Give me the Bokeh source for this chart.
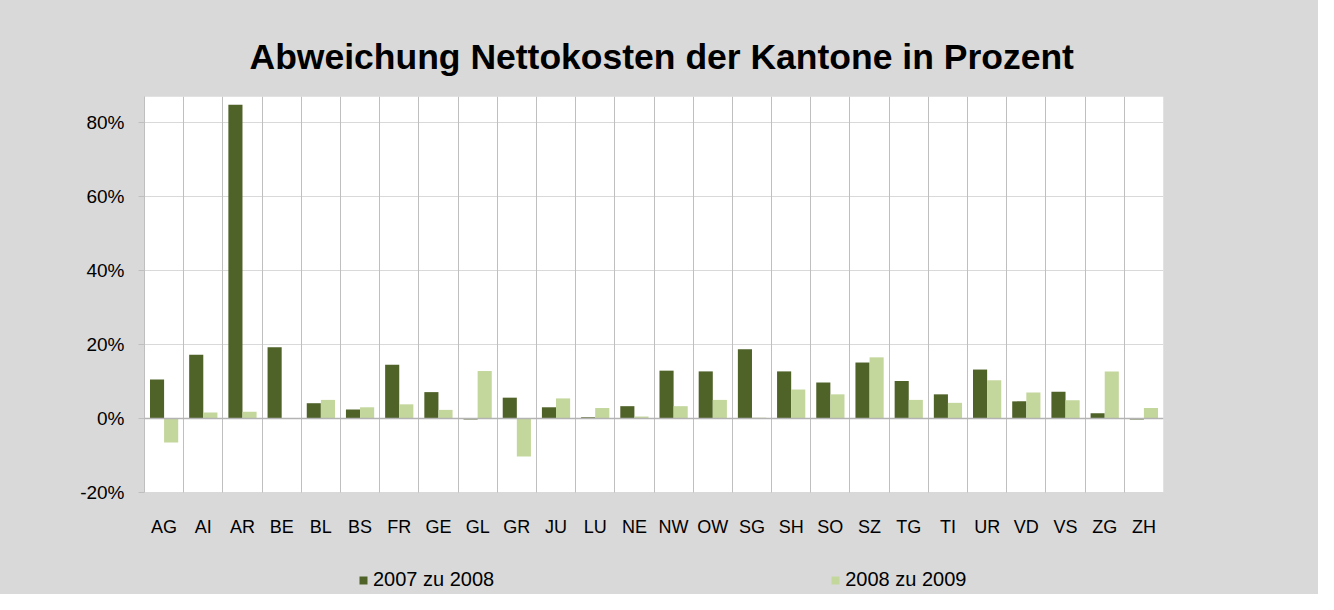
from bokeh.plotting import figure
from bokeh.models import (ColumnDataSource, FixedTicker, PrintfTickFormatter, Span, Grid,
                          BoxAnnotation, Legend, LegendItem, Range1d, Title)
from bokeh.core.properties import value
from bokeh.embed import file_html
from bokeh.resources import INLINE

cantons = ["AG", "AI", "AR", "BE", "BL", "BS", "FR", "GE", "GL", "GR", "JU", "LU", "NE",
           "NW", "OW", "SG", "SH", "SO", "SZ", "TG", "TI", "UR", "VD", "VS", "ZG", "ZH"]
d_2007_2008 = [10.5, 17.2, 84.8, 19.2, 4.1, 2.4, 14.5, 7.1, -0.3, 5.6, 3.0, 0.3, 3.3,
               12.9, 12.7, 18.7, 12.7, 9.7, 15.1, 10.1, 6.5, 13.2, 4.6, 7.2, 1.4, -0.3]
d_2008_2009 = [-6.5, 1.6, 1.8, 0.0, 5.0, 3.0, 3.8, 2.3, 12.8, -10.3, 5.4, 2.8, 0.5,
               3.3, 5.0, 0.2, 7.8, 6.5, 16.5, 5.0, 4.2, 10.3, 7.0, 4.9, 12.7, 2.8]
series_names = ["2007 zu 2008", "2008 zu 2009"]
y_ticks = [-20, 0, 20, 40, 60, 80]
y_min, y_max = -20, 87

DARK = "#4F6228"
LIGHT = "#C3D69B"
BG = "#d9d9d9"
FONT = "Liberation Sans"

n = len(cantons)
centers = [i + 0.5 for i in range(n)]
src = ColumnDataSource(dict(
    x1=[c - 0.18 for c in centers],
    x2=[c + 0.18 for c in centers],
    xc=centers,
    base=[y_min] * n,
    v1=d_2007_2008,
    v2=d_2008_2009,
    cat=cantons,
))

# the frame reaches down to the bottom so the category labels and legend sit inside it;
# only the part above the value axis minimum is painted white (the plot area)
p = figure(width=1318, height=594, output_backend="svg", toolbar_location=None,
           x_axis_type=None, x_range=Range1d(0, n), y_range=Range1d(-47.6, y_max),
           min_border_left=144, min_border_right=155, min_border_top=96,
           min_border_bottom=0)
p.border_fill_color = BG
p.background_fill_color = BG
p.outline_line_color = None
# grey behind the canvas so no light seam shows where frame and border meet
p.styles = {"background-color": BG}

title = Title(text="Abweichung Nettokosten der Kantone in Prozent", align="left",
              text_font=FONT, text_font_size="35.5px", text_font_style="bold",
              text_color="black", standoff=39, offset=105)
p.add_layout(title, "above")

# plot area and grids
p.ygrid.visible = False
p.add_layout(BoxAnnotation(bottom=y_min, fill_color="white", fill_alpha=1,
                           line_color=None, level="image"))
p.add_layout(Grid(dimension=1, ticker=FixedTicker(ticks=y_ticks), grid_line_color=BG,
                  level="underlay"))
p.add_layout(Grid(dimension=0, ticker=FixedTicker(ticks=list(range(n + 1))),
                  bounds=(0, n), cross_bounds=(y_min, y_max),
                  grid_line_color="#bfbfbf", level="underlay"))

r1 = p.vbar(x="x1", top="v1", bottom=0, width=0.36, source=src, fill_color=DARK,
            line_color=None)
r2 = p.vbar(x="x2", top="v2", bottom=0, width=0.36, source=src, fill_color=LIGHT,
            line_color=None)

p.add_layout(Span(location=0, dimension="width", line_color="#b3b3b3", line_width=1.5))

# category labels
p.text(x="xc", y="base", text="cat", source=src, y_offset=25, text_align="center",
       text_baseline="top", text_font=value(FONT), text_font_size="18px",
       text_color="black")

# y axis
p.yaxis.bounds = (y_min, y_max)
p.yaxis.ticker = FixedTicker(ticks=y_ticks)
p.yaxis.formatter = PrintfTickFormatter(format="%d%%")
p.yaxis.axis_line_color = "#bfbfbf"
p.yaxis.major_tick_line_color = "#bfbfbf"
p.yaxis.major_tick_out = 6
p.yaxis.major_tick_in = 0
p.yaxis.minor_tick_line_color = None
p.yaxis.major_label_standoff = 14
p.yaxis.major_label_text_font = FONT
p.yaxis.major_label_text_font_size = "19px"
p.yaxis.major_label_text_color = "black"

legend = Legend(items=[LegendItem(label=series_names[0], renderers=[r1]),
                       LegendItem(label=series_names[1], renderers=[r2])],
                orientation="horizontal", location=(214, 3), spacing=336,
                glyph_width=10, glyph_height=10, label_standoff=5, padding=0, margin=0,
                label_text_font=FONT, label_text_font_size="20px",
                label_text_color="black", label_height=20,
                background_fill_alpha=0, border_line_color=None)
p.add_layout(legend, "center")

open("out.html", "w").write(file_html(p, INLINE))
